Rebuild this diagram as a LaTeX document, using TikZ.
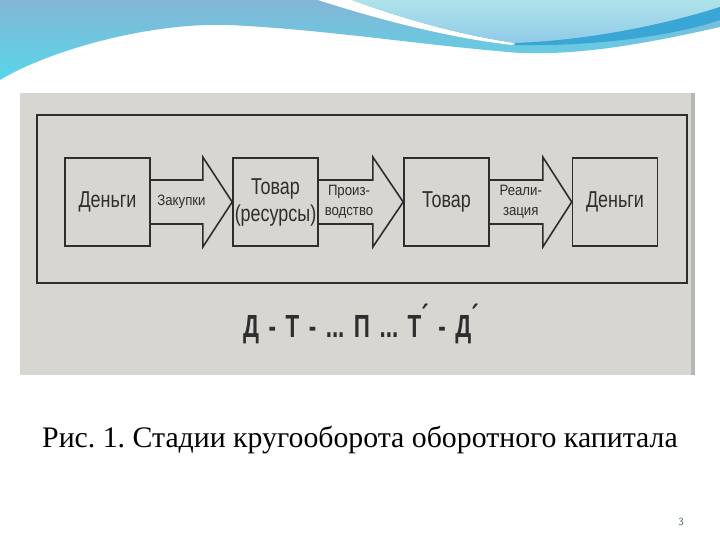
\documentclass[tikz,border=0pt]{standalone}
\usepackage{fontspec}
\setmainfont{Liberation Serif}
\newfontfamily\boxfont[FakeStretch=0.78]{Liberation Sans}
\newfontfamily\labelfont[FakeStretch=0.88]{Liberation Sans}
\newfontfamily\formulafont[FakeStretch=0.7]{Liberation Sans}
\usetikzlibrary{calc}

\definecolor{photogray}{HTML}{D8D6D1}
\definecolor{inkgray}{HTML}{2E2E2E}
\definecolor{wavecyan}{HTML}{58D6EA}
\definecolor{waveblue}{HTML}{84B6D6}
\definecolor{wavelight}{HTML}{AEE3EA}
\definecolor{wavemid}{HTML}{90CAE8}
\definecolor{wavedark}{HTML}{3AA6D6}
\definecolor{pagenum}{HTML}{44606E}

\tikzset{
  stagebox/.style={draw=inkgray, line width=1.6pt, minimum width=85pt,
    minimum height=88pt, inner sep=0pt, text=inkgray, align=center,
    font=\boxfont\fontsize{23}{27}\selectfont},
  blockarrow/.style={draw=inkgray, line width=1.6pt, line join=miter},
  arrowlabel/.style={text=inkgray, align=center, inner sep=0pt,
    font=\labelfont\fontsize{15}{20}\selectfont},
}

\begin{document}
\frenchspacing
\begin{tikzpicture}[x=1pt,y=-1pt]
  \useasboundingbox (0,0) rectangle (720,540);
  \fill[white] (0,0) rectangle (720,540);

  % header wave
  \shade[top color=waveblue, bottom color=wavecyan]
    (0,0) -- (720,0) -- (720,27)
    .. controls (640,45) and (580,55) .. (520,53)
    .. controls (420,45) and (330,30) .. (230,25)
    .. controls (150,22) and (50,50) .. (0,80) -- cycle;
  \fill[white] (318,0) .. controls (380,20) and (450,38) .. (512,45)
    -- (515,43) .. controls (460,35) and (400,18) .. (352,0) -- cycle;
  \shade[top color=wavelight, bottom color=wavemid]
    (352,0) .. controls (400,18) and (460,35) .. (515,43)
    .. controls (600,40) and (680,20) .. (720,7) -- (720,0) -- cycle;
  \fill[wavedark] (515,43) .. controls (600,40) and (680,20) .. (720,7)
    -- (720,20) .. controls (680,34) and (600,47) .. (515,45) -- cycle;

  % scanned figure
  \fill[photogray] (20,93) rectangle (695,375);
  \fill[photogray!85!black] (691,93) rectangle (695,375);
  \draw[inkgray, line width=1.6pt] (37,115) rectangle (687,283);

  \node[stagebox] (den1) at (107.5,202) {Деньги};
  \node[stagebox] (tov1) at (275.5,202) {Товар\\(ресурсы)};
  \node[stagebox] (tov2) at (446.5,202) {Товар};
  \node[stagebox] (den2) at (615,202) {Деньги};

  \draw[blockarrow] ($(den1.east)+(0,-22)$) -- ++(52,0) -- ++(0,-23)
    -- (tov1.west) -- ($(den1.east)+(52,45)$) -- ++(0,-23) -- ($(den1.east)+(0,22)$);
  \draw[blockarrow] ($(tov1.east)+(0,-22)$) -- ++(54,0) -- ++(0,-23)
    -- (tov2.west) -- ($(tov1.east)+(54,45)$) -- ++(0,-23) -- ($(tov1.east)+(0,22)$);
  \draw[blockarrow] ($(tov2.east)+(0,-22)$) -- ++(53,0) -- ++(0,-23)
    -- (den2.west) -- ($(tov2.east)+(53,45)$) -- ++(0,-23) -- ($(tov2.east)+(0,22)$);

  \node[arrowlabel] (zak) at ($($(den1.east)!0.5!(tov1.west)$)+(-10,0)$) {Закупки};
  \node[arrowlabel] (proiz) at ($($(tov1.east)!0.5!(tov2.west)$)+(-12,0)$) {Произ-\\водство};
  \node[arrowlabel] (real) at ($($(tov2.east)!0.5!(den2.west)$)+(-10,0)$) {Реали-\\зация};

  \node[text=inkgray, inner sep=0pt, font=\formulafont\bfseries\fontsize{32}{36}\selectfont]
    (formula) at (361,324)
    {\spaceskip=9.5pt Д - Т - ... П ... Т\raisebox{.3em}{´} - Д\raisebox{.3em}{´}};

  % caption and page number
  \node[anchor=base west, inner sep=0pt, font=\fontsize{29.8}{34}\selectfont]
    (caption) at (42,447) {Рис. 1. Стадии кругооборота оборотного капитала};
  \node[text=pagenum, inner sep=0pt, font=\sffamily\fontsize{11}{12}\selectfont]
    (page) at (681,522) {3};
\end{tikzpicture}
\end{document}
